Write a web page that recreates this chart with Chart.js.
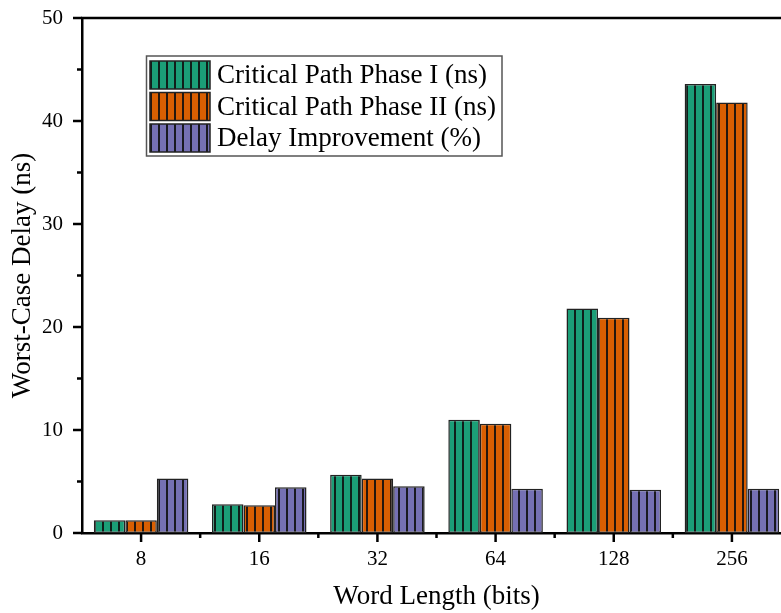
<!DOCTYPE html>
<html>
<head>
<meta charset="utf-8">
<script src="https://cdn.jsdelivr.net/npm/chart.js@4/dist/chart.umd.min.js"></script>
<style>
html,body{margin:0;padding:0;background:#fff;overflow:hidden;}
#wrap{width:792px;height:613px;position:relative;}
</style>
</head>
<body>
<div id="wrap"><canvas id="c"></canvas></div>
<script>
const categories = ['8', '16', '32', '64', '128', '256'];
const phase1 = [1.25, 2.8, 5.65, 11.0, 21.8, 43.6];
const phase2 = [1.25, 2.7, 5.3, 10.6, 20.9, 41.8];
const improvement = [5.3, 4.45, 4.55, 4.3, 4.2, 4.3];
const seriesNames = ['Critical Path Phase I (ns)', 'Critical Path Phase II (ns)', 'Delay Improvement (%)'];
const seriesColors = ['#1b9e77', '#d95f02', '#7570b3'];
const yTicks = [0, 10, 20, 30, 40, 50];

const FONT = "'Liberation Serif', 'Times New Roman', serif";

function makePattern(color) {
  const c = document.createElement('canvas');
  c.width = 8; c.height = 8;
  const g = c.getContext('2d');
  g.fillStyle = color;
  g.fillRect(0, 0, 8, 8);
  g.fillStyle = 'rgba(15,15,15,0.9)';
  g.fillRect(6, 0, 2, 8);
  return g.createPattern(c, 'repeat');
}
const patterns = seriesColors.map(makePattern);

const ticksAndFrame = {
  id: 'ticksAndFrame',
  afterDraw(chart) {
    const ctx = chart.ctx;
    const x = chart.scales.x, y = chart.scales.y;
    const a = chart.chartArea;
    ctx.save();
    ctx.strokeStyle = '#000';
    ctx.lineWidth = 2.5;
    ctx.beginPath();
    ctx.moveTo(a.left - 1, a.top);
    ctx.lineTo(chart.width, a.top);
    ctx.stroke();
    for (let v = 0; v <= 50; v += 5) {
      const py = y.getPixelForValue(v);
      const len = (v % 10 === 0) ? 9 : 5;
      ctx.beginPath();
      ctx.moveTo(a.left, py);
      ctx.lineTo(a.left - len, py);
      ctx.stroke();
    }
    const n = categories.length;
    for (let i = 0; i < n; i++) {
      const px = x.getPixelForValue(i);
      ctx.beginPath();
      ctx.moveTo(px, a.bottom);
      ctx.lineTo(px, a.bottom + 9);
      ctx.stroke();
      if (i < n - 1) {
        const bx = (px + x.getPixelForValue(i + 1)) / 2;
        ctx.beginPath();
        ctx.moveTo(bx, a.bottom);
        ctx.lineTo(bx, a.bottom + 5);
        ctx.stroke();
      }
    }
    const bx0 = 146.5, by0 = 56, bw = 355.5, bh = 100;
    ctx.fillStyle = '#fff';
    ctx.fillRect(bx0, by0, bw, bh);
    ctx.lineWidth = 1.5;
    ctx.strokeStyle = '#555';
    ctx.strokeRect(bx0, by0, bw, bh);
    ctx.font = '27px ' + FONT;
    ctx.textBaseline = 'middle';
    ctx.textAlign = 'left';
    chart.data.datasets.forEach((ds, i) => {
      const top = 61 + i * 31.5;
      ctx.fillStyle = ds.backgroundColor;
      ctx.fillRect(150, top, 60, 28);
      ctx.strokeStyle = '#222';
      ctx.lineWidth = 1.5;
      ctx.strokeRect(150, top, 60, 28);
      ctx.fillStyle = '#000';
      ctx.fillText(ds.label, 217, top + 15);
    });
    ctx.restore();
  }
};

new Chart(document.getElementById('c'), {
  type: 'bar',
  data: {
    labels: categories,
    datasets: [
      { label: seriesNames[0], data: phase1, backgroundColor: patterns[0] },
      { label: seriesNames[1], data: phase2, backgroundColor: patterns[1] },
      { label: seriesNames[2], data: improvement, backgroundColor: patterns[2] }
    ].map(d => Object.assign(d, { borderColor: '#222', borderWidth: 1.5, borderSkipped: false, categoryPercentage: 0.8, barPercentage: 1.0 }))
  },
  options: {
    responsive: true,
    maintainAspectRatio: false,
    animation: false,
    layout: { padding: { top: 18, right: 1, left: 0, bottom: 0 } },
    plugins: { legend: { display: false }, tooltip: { enabled: false } },
    scales: {
      x: {
        offset: true,
        grid: { display: false, drawTicks: false },
        border: { display: true, color: '#000', width: 2.5 },
        ticks: { color: '#000', font: { family: FONT, size: 21 }, padding: 14, maxRotation: 0 },
        title: { display: true, text: 'Word Length (bits)', color: '#000', font: { family: FONT, size: 27 }, padding: { top: 0, bottom: 0 } },
        afterFit(s) { s.height = 80; s.paddingLeft = 0; s.paddingRight = 0; }
      },
      y: {
        min: 0, max: 50,
        afterBuildTicks(s) { s.ticks = yTicks.map(v => ({ value: v })); },
        grid: { display: false, drawTicks: false },
        border: { display: true, color: '#000', width: 2.5 },
        ticks: { color: '#000', font: { family: FONT, size: 21 }, padding: 19 },
        title: { display: true, text: 'Worst-Case Delay (ns)', color: '#000', font: { family: FONT, size: 27 }, padding: { top: 7, bottom: 0 } },
        afterFit(s) { s.width = 82; s.paddingTop = 0; s.paddingBottom = 0; }
      }
    }
  },
  plugins: [ticksAndFrame]
});
</script>
</body>
</html>
